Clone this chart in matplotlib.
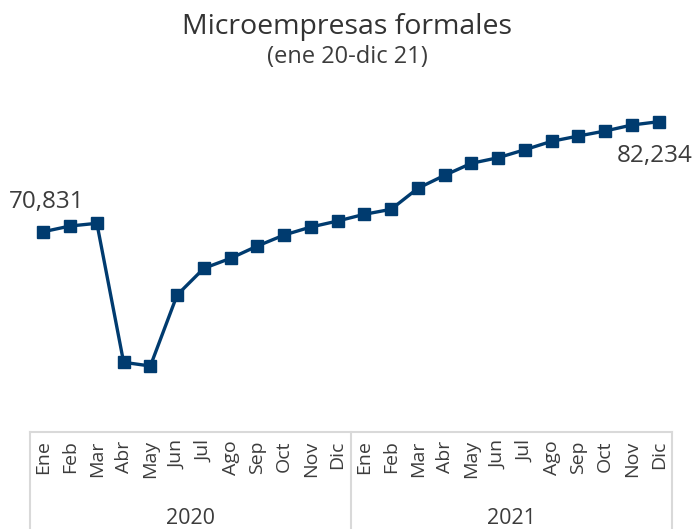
import matplotlib.pyplot as plt
from matplotlib.lines import Line2D
import numpy as np

plt.rcParams['font.family'] = ['Open Sans', 'DejaVu Sans']

# data
months = ['Ene', 'Feb', 'Mar', 'Abr', 'May', 'Jun', 'Jul', 'Ago', 'Sep', 'Oct', 'Nov', 'Dic']
years = ['2020', '2021']
values_2020 = [70831, 71422, 71702, 57293, 56909, 64269, 67037, 68074, 69349, 70489, 71318, 71940]
values_2021 = [72635, 73153, 75330, 76677, 77921, 78502, 79331, 80202, 80751, 81270, 81892, 82234]

values = values_2020 + values_2021
labels = months * len(years)
x = np.arange(len(values))

navy = '#003b6f'
text_col = '#3c3c3c'
grid_col = '#d9d9d9'

W, H = 694, 529
fig = plt.figure(figsize=(W / 100, H / 100), dpi=100)

# axes placed in pixel terms
left, right, top, bottom = 30, 672, 80, 432
ax = fig.add_axes([left / W, 1 - bottom / H, (right - left) / W, (bottom - top) / H])

ax.plot(x, values, color=navy, linewidth=2.4, marker='s', markersize=8.5, zorder=3)

ax.set_xlim(-0.5, len(values) - 0.5)
ax.set_ylim(50068, 86557)

ax.set_xticks(x)
ax.set_xticklabels(labels, rotation=90, fontsize=14, color=text_col)
ax.tick_params(axis='x', length=0, pad=6)
ax.set_yticks([])
for s in ax.spines.values():
    s.set_visible(False)

# first/last value labels
ax.annotate(f'{values[0]:,}', (x[0], values[0]), xytext=(-35, 18), textcoords='offset pixels',
            ha='left', va='bottom', fontsize=17.5, color=text_col, annotation_clip=False)
ax.annotate(f'{values[-1]:,}', (x[-1], values[-1]), xytext=(34, -22), textcoords='offset pixels',
            ha='right', va='top', fontsize=17.5, color=text_col, annotation_clip=False)

# category box below the axis
fy = 1 - bottom / H
fig.add_artist(Line2D([left / W, right / W], [fy, fy], color=grid_col, linewidth=1.5))
for px in [left, (left + right) / 2, right]:
    fig.add_artist(Line2D([px / W, px / W], [0, fy], color=grid_col, linewidth=1.5))

for i, yr in enumerate(years):
    cx = (left + (right - left) * (i + 0.5) / len(years)) / W
    fig.text(cx, 1 - 518 / H, yr, ha='center', va='center', fontsize=15.5, color=text_col)

fig.text(0.5, 1 - 27 / H, 'Microempresas formales', ha='center', va='center', fontsize=20.5,
         color='#333333')
fig.text(0.5, 1 - 57 / H, '(ene 20-dic 21)', ha='center', va='center', fontsize=17, color=text_col)

fig.savefig('out.png', dpi=100)
